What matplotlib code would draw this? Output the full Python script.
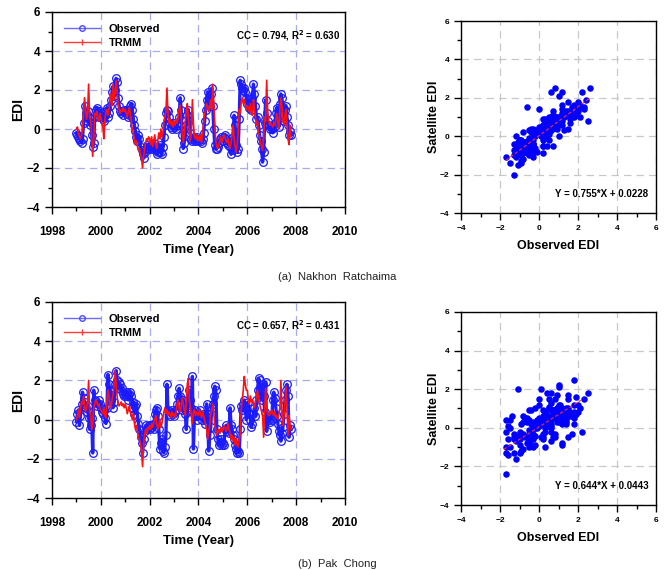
import numpy as np
import matplotlib
matplotlib.use('Agg')
import matplotlib.pyplot as plt
from matplotlib.lines import Line2D
from matplotlib.ticker import MultipleLocator

plt.rcParams['font.family'] = ['Liberation Sans', 'DejaVu Sans']
plt.rcParams['mathtext.default'] = 'bf'

# half-monthly EDI values, Jan 1999 .. Oct 2007
nakhon_obs = [
    -0.2, -0.3, -0.4, -0.5, -0.6, -0.7, -0.5, 0.3, 1.2, 0.8, 0.4, 0.9, 0.6, 0.2, 0.5, -0.3, -0.9, -0.7, 0.6, 1.0, 1.1, 0.8, 0.6, 0.9,  # 1999
    0.8, 0.6, 0.5, 0.4, 0.7, 0.9, 1.1, 0.6, 0.8, 1.2, 1.5, 1.9, 2.2, 1.7, 2.0, 2.6, 2.4, 1.6, 1.2, 0.9, 0.8, 0.9, 0.7, 1.0,  # 2000
    0.9, 1.0, 0.8, 0.6, 0.7, 1.2, 1.3, 1.0, 0.5, 0.2, -0.1, -0.4, -0.6, -0.3, -0.5, -0.9, -1.1, -1.3, -1.5, -1.2, -1.0, -0.8, -0.9, -1.0,  # 2001
    -0.9, -0.8, -1.0, -0.9, -0.7, -0.9, -1.1, -1.3, -1.2, -1.0, -0.8, -1.2, -1.3, -0.9, -0.4, 0.2, 0.8, 1.0, 0.9, 0.6, 0.3, 0.1, 0.0, 0.2,  # 2002
    0.3, 0.1, 0.0, 0.2, 0.3, 0.6, 1.6, 1.0, -0.3, -1.0, -0.7, -0.3, 0.2, 0.7, 1.0, 0.4, -0.2, -0.5, -0.6, -0.5, -0.4, -0.6, -0.5, -0.4,  # 2003
    -0.6, -0.5, -0.6, -0.7, -0.5, -0.2, 0.4, 1.0, 1.5, 1.9, 1.6, 1.2, 1.8, 2.1, 1.2, 0.0, -0.8, -1.0, -1.0, -0.9, -0.7, -0.5, -0.4, -0.6,  # 2004
    -0.6, -0.4, -0.3, -0.5, -0.7, -0.8, -0.6, -0.9, -1.3, -1.1, -0.4, 0.7, 0.2, -0.8, -1.2, -1.0, 0.5, 2.5, 2.3, 2.1, 2.0, 2.1, 1.9, 1.6,  # 2005
    1.3, 1.5, 1.1, 1.4, 1.0, 1.6, 2.3, 1.8, 1.2, 0.5, 0.6, 0.2, -0.3, -0.6, -1.0, -1.7, -1.2, 0.3, 1.5, 0.8, 0.4, 0.2, 0.0, 0.1,  # 2006
    0.0, -0.2, 0.1, 0.3, 0.8, 1.1, 0.5, 0.1, 1.3, 1.8, 1.6, 0.9, 0.4, 1.0, 1.2, 0.6, 0.2, -0.3, -0.1, -0.3,  # 2007
]
nakhon_trmm = [
    0.0, 0.1, -0.2, -0.4, -0.5, -0.3, -0.1, 0.9, 1.6, 1.0, 0.5, 0.9, 2.3, 0.6, 0.5, -0.4, -1.4, -0.6, 0.8, 0.7, 0.9, 0.5, 0.4, 0.8,  # 1999
    0.6, 0.3, 0.1, -0.5, 0.5, 0.9, 1.0, 0.7, 1.0, 1.4, 1.8, 1.2, 2.3, 1.5, 1.8, 2.5, 1.9, 1.3, 1.0, 0.8, 1.0, 0.9, 1.1, 0.9,  # 2000
    1.0, 0.8, 0.6, 0.9, 1.1, 0.8, 0.3, 0.0, -0.2, -0.5, -0.8, -0.6, -0.9, -1.1, -1.0, -1.3, -1.5, -2.0, -1.4, -1.1, -0.7, -0.5, -0.6, -0.4,  # 2001
    -0.5, -0.8, -0.4, -0.9, -0.6, -0.3, -0.8, -1.0, -0.6, -0.2, -0.5, 0.0, -0.4, -0.2, 0.4, 0.6, 0.9, 2.1, 0.8, 0.3, 0.5, 0.2, 0.4, 0.1,  # 2002
    0.4, 0.2, 0.5, 0.3, 0.6, 1.0, 1.2, 0.7, -0.2, -0.7, -0.3, 0.4, 0.9, 1.3, 0.6, -0.1, -0.6, -0.2, 1.5, 0.3, -0.4, -0.5, -0.3, -0.6,  # 2003
    -0.4, -0.6, -0.3, -0.7, -0.2, 0.3, 0.8, 1.0, 1.3, 1.1, 0.9, 1.2, 1.5, 1.0, 2.3, 1.4, 0.2, -0.6, -0.9, -1.0, -0.8, -0.6, -0.4, -0.7,  # 2004
    -0.5, -0.3, -0.4, -0.6, -0.7, -0.5, -0.8, -1.0, -0.7, -0.3, 0.2, -0.5, -0.9, -1.2, -0.8, -0.2, 1.0, 0.8, 1.4, 1.6, 1.3, 1.5, 1.2, 1.0,  # 2005
    1.2, 1.1, 0.9, 1.3, 0.8, 0.7, 1.5, 1.0, 0.6, 0.2, 0.4, -0.2, -0.4, -0.7, -0.9, -1.1, -0.5, 0.6, 0.4, 2.5, 0.9, 0.4, 0.2, 0.3,  # 2006
    0.2, 0.1, 0.3, 0.2, 0.5, 0.8, 0.3, 0.0, 1.0, 1.6, 1.2, 0.4, 0.2, 0.7, 1.0, 0.3, -0.5, -0.8, 0.2, -0.4,  # 2007
]
pakchong_obs = [
    -0.1, 0.3, 0.5, -0.3, 0.2, 0.8, 1.4, 1.1, 0.9, 0.6, 0.4, 0.7, 0.1, -0.5, -0.3, 0.1, -1.7, 1.5, 1.0, 0.9, 0.7, 0.8, 1.0, 0.8,  # 1999
    0.6, 0.4, 0.3, 0.5, 0.1, -0.2, 0.6, 2.3, 1.8, 1.5, 1.0, 1.4, 0.6, 0.9, 1.8, 2.5, 2.0, 1.6, 1.9, 1.8, 1.5, 1.6, 1.3, 1.2,  # 2000
    1.3, 1.2, 1.4, 1.0, 1.3, 1.4, 1.2, 0.6, 0.9, 0.3, 0.7, 0.8, 0.2, -0.2, -0.5, -0.9, -1.2, -1.7, -1.0, -0.6, -0.3, -0.5, -0.4, -0.3,  # 2001
    -0.5, -0.3, -0.4, -0.2, -0.5, 0.3, 0.5, 0.6, 0.2, -0.5, -1.5, -1.2, -1.0, -1.6, -1.7, -1.4, -0.8, 1.8, 0.5, 0.3, 0.2, 0.4, 0.5, 0.3,  # 2002
    0.2, 0.4, 0.5, 0.8, 1.2, 1.6, 1.2, 0.9, 0.5, 1.0, 0.6, 0.3, -0.5, 0.4, 1.0, 1.5, 1.0, 0.6, 2.2, -1.5, 0.3, 0.5, 0.2, 0.0,  # 2003
    0.3, 0.5, 0.2, 0.0, 0.3, 0.1, -0.2, 0.2, 0.8, 0.3, -1.6, -0.8, -0.4, 0.6, 0.8, 1.2, 1.7, 1.5, -0.5, -1.0, -1.3, -1.2, -1.0, -1.3,  # 2004
    -1.2, -1.3, -0.5, -0.3, -0.6, -0.4, -0.7, 0.6, -0.3, -0.5, -0.8, -1.0, -1.3, -1.5, -1.7, -1.6, -1.7, -0.5, 0.7, 0.5, 0.8, 1.0, 0.6, 0.0,  # 2005
    0.5, 0.9, 0.3, 0.0, -0.4, -0.2, 0.3, 0.6, 0.2, 1.0, 1.5, 2.1, 2.0, 1.4, 1.0, 1.8, 1.2, 0.4, 1.9, -0.6, 0.2, 0.0, -0.1, 0.1,  # 2006
    0.0, 1.0, 1.4, 1.1, 0.6, 0.2, -0.2, -0.6, -0.8, -1.1, -0.7, -0.4, 0.3, 1.0, 1.5, 1.8, 1.2, -0.9, -0.3, -0.5,  # 2007
]
pakchong_trmm = [
    0.0, 0.2, 0.5, 0.1, 0.6, 0.9, 0.8, 1.2, 0.7, 0.4, 0.6, 0.9, 2.0, 0.4, 0.3, -0.5, -0.2, 0.6, 0.8, 1.0, 0.9, 0.7, 0.8, 0.6,  # 1999
    0.5, 0.4, 0.3, 0.6, 0.2, 0.1, 0.9, 1.5, 1.2, 0.8, 0.6, 1.0, 1.3, 1.7, 2.5, 1.8, 1.2, 0.8, 0.7, 0.8, 0.9, 0.7, 0.8, 0.6,  # 2000
    0.8, 0.6, 0.3, 0.5, 0.7, 0.4, 0.2, 0.0, 0.3, -0.2, -0.5, -0.3, -0.6, -0.9, -1.0, -1.2, -1.6, -2.4, -1.3, -0.8, -0.5, -0.7, -0.4, -0.5,  # 2001
    -0.3, -0.5, -0.2, -0.4, -0.1, 0.0, 0.2, -0.2, -0.5, -0.3, 0.0, -0.4, -0.2, 0.1, 0.4, 0.6, 0.3, 0.5, 0.2, 0.4, 0.3, 0.1, 0.4, 0.2,  # 2002
    0.3, 0.1, 0.4, 0.8, 1.0, 0.6, 0.4, 0.7, 1.1, 0.8, 0.5, 0.2, 0.9, 1.8, 2.1, 1.0, 0.6, 0.2, -0.2, 0.4, 0.5, 0.2, 0.4, 0.3,  # 2003
    0.2, 0.5, 0.3, 0.1, 0.4, 0.2, 0.0, -0.3, -0.5, -1.0, -0.6, -0.3, 0.2, 0.5, 0.8, 0.4, -0.3, -0.5, -0.8, -0.6, -0.5, -0.7, -0.4, -0.6,  # 2004
    -0.5, -0.3, -0.4, -0.6, -0.5, -0.2, -0.5, -0.7, -1.0, -0.8, -1.1, -0.9, -1.3, -1.0, -1.3, -1.4, -1.0, -0.8, 0.5, 1.0, 1.5, 2.2, 1.8, 1.5,  # 2005
    1.5, 1.0, 0.8, 1.2, 0.9, 1.0, 0.8, 0.6, 0.9, 1.2, 1.5, 1.0, 0.8, 0.6, 0.4, 0.2, -0.9, 0.3, 1.6, 0.5, 0.3, 0.2, 0.4, 0.3,  # 2006
    0.5, 0.3, 0.2, 0.4, 0.1, 0.2, 0.0, 0.3, 0.6, 2.0, 0.5, -0.3, 0.2, 0.8, 1.7, 0.6, -0.8, 0.2, -0.3, -0.5,  # 2007
]

stations = ['(a)  Nakhon  Ratchaima', '(b)  Pak  Chong']
cc_text = ['CC = 0.794, R$^2$ = 0.630', 'CC = 0.657, R$^2$ = 0.431']
slopes = [0.755, 0.644]
intercepts = [0.0228, 0.0443]
fit_ranges = [(-1.7, 2.6), (-1.8, 2.3)]
eq_text = ['Y = 0.755*X + 0.0228', 'Y = 0.644*X + 0.0443']

W, H = 665, 570
fig = plt.figure(figsize=(W / 100, H / 100), dpi=100)


def px_axes(left, top, right, bottom):
    return fig.add_axes([left / W, 1 - bottom / H, (right - left) / W, (bottom - top) / H])


def style_ticks(ax, size, xpad):
    ax.tick_params(which='both', direction='out', top=False, right=False, labelsize=size, width=1)
    ax.tick_params(which='major', length=5)
    ax.tick_params(which='minor', length=3)
    ax.tick_params(axis='x', which='major', pad=xpad)
    for lab in ax.get_xticklabels() + ax.get_yticklabels():
        lab.set_fontweight('bold')
    for s in ax.spines.values():
        s.set_linewidth(1)


series = [(nakhon_obs, nakhon_trmm), (pakchong_obs, pakchong_trmm)]
ts_boxes = [(52, 12, 345, 207), (52, 302, 345, 498)]
sc_boxes = [(461, 21, 656, 213), (461, 312, 656, 505)]
caption_y = [277, 564]

for i in range(2):
    obs = np.array(series[i][0])
    trmm = np.array(series[i][1])
    t = 1999 + np.arange(len(obs)) / 24.0

    # time series
    ax = px_axes(*ts_boxes[i])
    ax.plot(t, obs, color='#2020ff', lw=2.4, zorder=2)
    ax.plot(t, obs, ls='none', marker='o', ms=5.5, mfc='none', mec='#1a1aff', mew=0.9, zorder=3)
    ax.plot(t, trmm, color='#ff1010', lw=1.2, zorder=4)
    ax.set_xlim(1998, 2010)
    ax.set_ylim(-4, 6)
    ax.xaxis.set_major_locator(MultipleLocator(2))
    ax.xaxis.set_minor_locator(MultipleLocator(1))
    ax.yaxis.set_major_locator(MultipleLocator(2))
    ax.yaxis.set_minor_locator(MultipleLocator(1))
    ax.grid(True, which='major', color='#aaaaee', ls=(0, (6, 4)), lw=0.9)
    ax.set_axisbelow(True)
    style_ticks(ax, 8.5, 9)
    ax.set_xlabel('Time (Year)', fontsize=9.5, fontweight='bold', labelpad=4)
    ax.set_ylabel('EDI', fontsize=10, fontweight='bold', labelpad=1)
    handles = [Line2D([], [], color='#6a6aff', lw=1, marker='o', ms=4, mfc='none', mec='#4a4aff'),
               Line2D([], [], color='#ff3a3a', lw=1, marker='|', ms=4, markevery=[1])]
    ax.legend(handles, ['Observed', 'TRMM'], loc='upper left', frameon=False,
              prop={'weight': 'bold', 'size': 8}, handlelength=3.2, borderaxespad=0.7,
              labelspacing=0.3, bbox_to_anchor=(0.0, 1.0))
    ax.text(0.985, 0.88, cc_text[i], transform=ax.transAxes, ha='right', va='center',
            fontsize=7, fontweight='bold')

    # scatter
    ax2 = px_axes(*sc_boxes[i])
    ax2.scatter(obs, trmm, s=22, color='#0000ff', zorder=3, linewidths=0)
    x0, x1 = fit_ranges[i]
    ax2.plot([x0, x1], [slopes[i] * x0 + intercepts[i], slopes[i] * x1 + intercepts[i]],
             color='#ff3030', ls=(0, (3, 2)), lw=0.8, zorder=4)
    ax2.set_xlim(-4, 6)
    ax2.set_ylim(-4, 6)
    ax2.xaxis.set_major_locator(MultipleLocator(2))
    ax2.xaxis.set_minor_locator(MultipleLocator(1))
    ax2.yaxis.set_major_locator(MultipleLocator(2))
    ax2.yaxis.set_minor_locator(MultipleLocator(1))
    ax2.grid(True, which='major', color='#c8c8c8', ls=(0, (6, 4)), lw=0.9)
    ax2.set_axisbelow(True)
    style_ticks(ax2, 6, 3.5)
    ax2.set_xlabel('Observed EDI', fontsize=9, fontweight='bold', labelpad=6)
    ax2.set_ylabel('Satellite EDI', fontsize=9, fontweight='bold', labelpad=0)
    ax2.text(0.96, 0.10, eq_text[i], transform=ax2.transAxes, ha='right', va='center',
             fontsize=7, fontweight='bold')

    fig.text(337 / W, 1 - caption_y[i] / H, stations[i], ha='center', va='center', fontsize=8,
             color='#222222')

fig.savefig('out.png', dpi=100)
